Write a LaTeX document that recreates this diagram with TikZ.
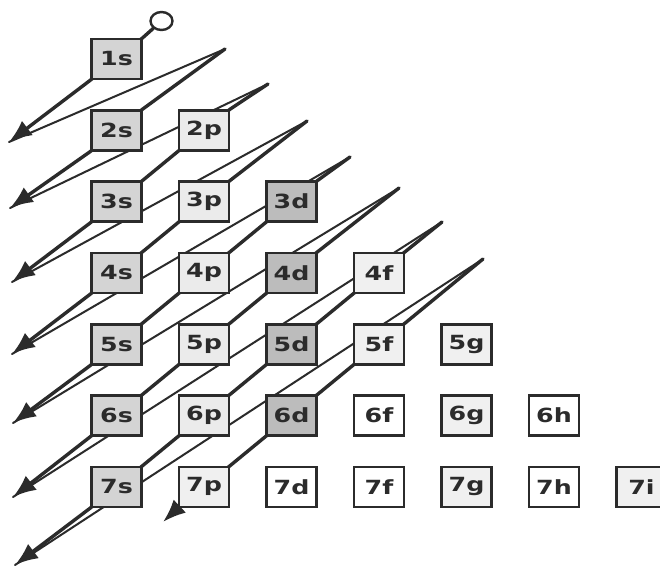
\documentclass[tikz,border=0pt]{standalone}
\usepackage{fontspec}
\setmainfont{DejaVu Sans}
\usetikzlibrary{arrows.meta,backgrounds,shapes.geometric}
\definecolor{ink}{HTML}{2B2B2B}
\definecolor{sgray}{HTML}{D4D4D4}
\definecolor{pgray}{HTML}{EBEBEB}
\definecolor{dgray}{HTML}{BCBCBC}
\definecolor{lgray}{HTML}{F0F0F0}
\newcommand\orbl[1]{\scalebox{1.3}[1]{#1}}
\begin{document}
\begin{tikzpicture}[x=1pt,y=-1pt,
  orb/.style={draw=ink, line width=2.6pt, minimum width=50pt, minimum height=40pt,
    inner sep=0pt, font=\bfseries\fontsize{19.5}{19.5}\selectfont, text=ink},
  sbox/.style={orb, fill=sgray},
  pbox/.style={orb, fill=pgray},
  dbox/.style={orb, fill=dgray},
  lbox/.style={orb, fill=lgray},
  wbox/.style={orb, fill=white},
  diag/.style={draw=ink, line width=3.4pt, line join=round, line cap=round,
    -{Latex[length=23pt,width=18pt,fill=ink]}},
  ret/.style={draw=ink, line width=2pt, line cap=round}]
\useasboundingbox (0,0) rectangle (660,566);
\clip (0,0) rectangle (660,566);
% row y: 59, 130.3, 201.6, 272.9, 344.2, 415.5, 486.8
% col x: 116.5, 204, 291.5, 379, 466.5, 554, 641.5
\node[sbox] (1s) at (116.5,59) {\orbl{1s}};
\node[sbox] (2s) at (116.5,130.3) {\orbl{2s}};
\node[pbox] (2p) at (204,130.3) {\orbl{2p}};
\node[sbox] (3s) at (116.5,201.6) {\orbl{3s}};
\node[pbox] (3p) at (204,201.6) {\orbl{3p}};
\node[dbox] (3d) at (291.5,201.6) {\orbl{3d}};
\node[sbox] (4s) at (116.5,272.9) {\orbl{4s}};
\node[pbox] (4p) at (204,272.9) {\orbl{4p}};
\node[dbox] (4d) at (291.5,272.9) {\orbl{4d}};
\node[lbox] (4f) at (379,272.9) {\orbl{4f}};
\node[sbox] (5s) at (116.5,344.2) {\orbl{5s}};
\node[pbox] (5p) at (204,344.2) {\orbl{5p}};
\node[dbox] (5d) at (291.5,344.2) {\orbl{5d}};
\node[lbox] (5f) at (379,344.2) {\orbl{5f}};
\node[lbox] (5g) at (466.5,344.2) {\orbl{5g}};
\node[sbox] (6s) at (116.5,415.5) {\orbl{6s}};
\node[pbox] (6p) at (204,415.5) {\orbl{6p}};
\node[dbox] (6d) at (291.5,415.5) {\orbl{6d}};
\node[wbox] (6f) at (379,415.5) {\orbl{6f}};
\node[lbox] (6g) at (466.5,415.5) {\orbl{6g}};
\node[wbox] (6h) at (554,415.5) {\orbl{6h}};
\node[sbox] (7s) at (116.5,486.8) {\orbl{7s}};
\node[lbox] (7p) at (204,486.8) {\orbl{7p}};
\node[wbox] (7d) at (291.5,486.8) {\orbl{7d}};
\node[wbox] (7f) at (379,486.8) {\orbl{7f}};
\node[lbox] (7g) at (466.5,486.8) {\orbl{7g}};
\node[wbox] (7h) at (554,486.8) {\orbl{7h}};
\node[lbox] (7i) at (641.5,486.8) {\orbl{7i}};
\node[draw=ink, line width=2.4pt, ellipse, minimum width=22pt, minimum height=18pt, inner sep=0pt, fill=white] (c0) at (161.5,21) {};
% tops and tips
\coordinate (p2) at (225,49);
\coordinate (p3) at (268,84);
\coordinate (p4) at (307,121);
\coordinate (p5) at (350,157);
\coordinate (p6) at (399,188);
\coordinate (p7) at (442,222);
\coordinate (p8) at (483,259);
\coordinate (t1) at (9,142);
\coordinate (t2) at (10,208);
\coordinate (t3) at (12,282);
\coordinate (t4) at (12,354);
\coordinate (t5) at (13,423);
\coordinate (t6) at (13,497);
\coordinate (t7) at (15,565);
\coordinate (t8) at (163,522);
\begin{scope}[on background layer]
\fill[white] (0,0) rectangle (660,566);
\draw[ret] (t1) -- (p2);
\draw[ret] (t2) -- (p3);
\draw[ret] (t3) -- (p4);
\draw[ret] (t4) -- (p5);
\draw[ret] (t5) -- (p6);
\draw[ret] (t6) -- (p7);
\draw[ret] (t7) -- (p8);
\draw[diag] (c0) -- (1s.north east) -- (1s.south west) -- (t1);
\draw[diag] (p2) -- (2s.north east) -- (2s.south west) -- (t2);
\draw[diag] (p3) -- (2p.north east) -- (2p.south west) -- (3s.north east) -- (3s.south west) -- (t3);
\draw[diag] (p4) -- (3p.north east) -- (3p.south west) -- (4s.north east) -- (4s.south west) -- (t4);
\draw[diag] (p5) -- (3d.north east) -- (3d.south west) -- (4p.north east) -- (4p.south west) -- (5s.north east) -- (5s.south west) -- (t5);
\draw[diag] (p6) -- (4d.north east) -- (4d.south west) -- (5p.north east) -- (5p.south west) -- (6s.north east) -- (6s.south west) -- (t6);
\draw[diag] (p7) -- (4f.north east) -- (4f.south west) -- (5d.north east) -- (5d.south west) -- (6p.north east) -- (6p.south west) -- (7s.north east) -- (7s.south west) -- (t7);
\draw[diag] (p8) -- (5f.north east) -- (5f.south west) -- (6d.north east) -- (6d.south west) -- (7p.north east) -- (7p.south west) -- (t8);
\end{scope}
\end{tikzpicture}
\end{document}
